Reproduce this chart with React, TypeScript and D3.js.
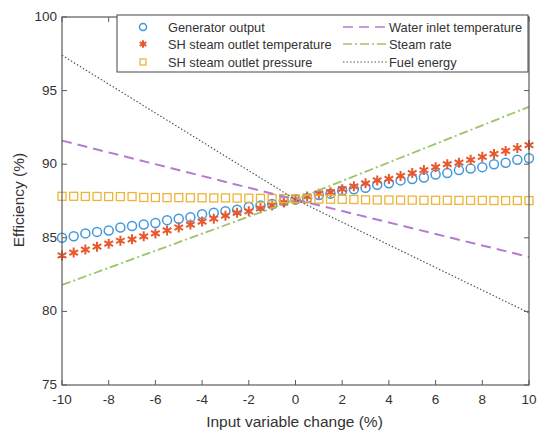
import React, { useEffect, useRef } from 'react';
import * as d3 from 'd3';

// input variable change (%)
const xSteps = [
  -10, -9.5, -9, -8.5, -8, -7.5, -7, -6.5, -6, -5.5, -5, -4.5, -4, -3.5, -3, -2.5, -2, -1.5, -1, -0.5,
  0, 0.5, 1, 1.5, 2, 2.5, 3, 3.5, 4, 4.5, 5, 5.5, 6, 6.5, 7, 7.5, 8, 8.5, 9, 9.5, 10,
];
const generatorOutput = [
  85.0, 85.1, 85.3, 85.4, 85.5, 85.7, 85.8, 85.9, 86.0, 86.2, 86.3, 86.4, 86.6, 86.7, 86.8, 86.9, 87.1, 87.2, 87.3, 87.5,
  87.6, 87.7, 87.9, 88.0, 88.2, 88.3, 88.4, 88.6, 88.7, 88.9, 89.0, 89.1, 89.3, 89.4, 89.6, 89.7, 89.8, 90.0, 90.1, 90.3, 90.4,
];
const shSteamTemp = [
  83.8, 84.0, 84.2, 84.4, 84.6, 84.8, 84.9, 85.1, 85.3, 85.5, 85.7, 85.9, 86.1, 86.3, 86.5, 86.7, 86.8, 87.0, 87.2, 87.4,
  87.6, 87.8, 88.0, 88.1, 88.3, 88.5, 88.7, 88.9, 89.0, 89.2, 89.4, 89.6, 89.8, 90.0, 90.1, 90.3, 90.5, 90.7, 90.9, 91.1, 91.3,
];
const shSteamPressure = [
  87.82, 87.82, 87.81, 87.81, 87.8, 87.8, 87.8, 87.74, 87.74, 87.73, 87.73, 87.72, 87.72, 87.71, 87.71, 87.7, 87.69, 87.68, 87.67, 87.66,
  87.65, 87.64, 87.63, 87.62, 87.61, 87.6, 87.58, 87.57, 87.57, 87.56, 87.56, 87.55, 87.55, 87.55, 87.54, 87.54, 87.54, 87.53, 87.53, 87.53, 87.53,
];
const lineX = [-10, 0, 10];
const waterInletTemp = [91.6, 87.6, 83.7];
const steamRate = [81.8, 87.6, 93.9];
const fuelEnergy = [97.4, 87.6, 79.9];

const xTicks = [-10, -8, -6, -4, -2, 0, 2, 4, 6, 8, 10];
const yTicks = [75, 80, 85, 90, 95, 100];

const W = 539;
const H = 430;
const margin = { top: 17, right: 10, bottom: 45, left: 62 };
const font = 'Liberation Sans, Arial, sans-serif';

const colors = {
  gen: '#4398dc',
  temp: '#e8582c',
  pres: '#edb43a',
  water: '#b57bcc',
  steam: '#9cc46a',
  fuel: '#555555',
};

const App = () => {
  const svgRef = useRef<SVGSVGElement>(null);

  useEffect(() => {
    const svg = d3.select(svgRef.current);
    svg.selectAll('*').remove();

    const width = W - margin.left - margin.right;
    const height = H - margin.top - margin.bottom;

    const x = d3.scaleLinear().domain([-10, 10]).range([0, width]);
    const y = d3.scaleLinear().domain([75, 100]).range([height, 0]);

    const g = svg.append('g').attr('transform', `translate(${margin.left},${margin.top})`);

    // markers
    g.selectAll('.gen')
      .data(generatorOutput)
      .enter().append('circle')
      .attr('cx', (d, i) => x(xSteps[i]))
      .attr('cy', d => y(d))
      .attr('r', 4.5)
      .attr('fill', 'none')
      .attr('stroke', colors.gen)
      .attr('stroke-width', 1.5);

    const star = d3.symbol().type(d3.symbolAsterisk).size(70);
    g.selectAll('.temp')
      .data(shSteamTemp)
      .enter().append('path')
      .attr('d', star)
      .attr('transform', (d, i) => `translate(${x(xSteps[i])},${y(d)})`)
      .attr('fill', 'none')
      .attr('stroke', colors.temp)
      .attr('stroke-width', 2);

    g.selectAll('.pres')
      .data(shSteamPressure)
      .enter().append('rect')
      .attr('x', (d, i) => x(xSteps[i]) - 4)
      .attr('y', d => y(d) - 4)
      .attr('width', 8)
      .attr('height', 8)
      .attr('fill', 'none')
      .attr('stroke', colors.pres)
      .attr('stroke-width', 1.3);

    const line = d3.line<number>()
      .x((d, i) => x(lineX[i]))
      .y(d => y(d));

    g.append('path').datum(waterInletTemp)
      .attr('d', line).attr('fill', 'none')
      .attr('stroke', colors.water).attr('stroke-width', 2)
      .attr('stroke-dasharray', '10,6');
    g.append('path').datum(steamRate)
      .attr('d', line).attr('fill', 'none')
      .attr('stroke', colors.steam).attr('stroke-width', 1.8)
      .attr('stroke-dasharray', '9,3,2,3');
    g.append('path').datum(fuelEnergy)
      .attr('d', line).attr('fill', 'none')
      .attr('stroke', colors.fuel).attr('stroke-width', 1.2)
      .attr('stroke-dasharray', '1.5,2');

    // box + ticks on all sides
    const axisColor = '#5a5a5a';
    g.append('rect')
      .attr('width', width).attr('height', height)
      .attr('fill', 'none').attr('stroke', axisColor).attr('stroke-width', 1.2);

    xTicks.forEach(t => {
      g.append('line').attr('x1', x(t)).attr('x2', x(t)).attr('y1', height).attr('y2', height - 5)
        .attr('stroke', axisColor);
      g.append('line').attr('x1', x(t)).attr('x2', x(t)).attr('y1', 0).attr('y2', 5)
        .attr('stroke', axisColor);
      g.append('text').attr('x', x(t)).attr('y', height + 19)
        .attr('text-anchor', 'middle').attr('font-family', font).attr('font-size', 13.5)
        .attr('fill', '#333').text(t);
    });
    yTicks.forEach(t => {
      g.append('line').attr('x1', 0).attr('x2', 5).attr('y1', y(t)).attr('y2', y(t))
        .attr('stroke', axisColor);
      g.append('line').attr('x1', width).attr('x2', width - 5).attr('y1', y(t)).attr('y2', y(t))
        .attr('stroke', axisColor);
      g.append('text').attr('x', -5).attr('y', y(t) + 4)
        .attr('text-anchor', 'end').attr('font-family', font).attr('font-size', 13.5)
        .attr('fill', '#333').text(t);
    });

    svg.append('text')
      .attr('x', margin.left + width / 2 - 1).attr('y', H - 3)
      .attr('text-anchor', 'middle').attr('font-family', font).attr('font-size', 15.5)
      .attr('fill', '#333').text('Input variable change (%)');
    svg.append('text')
      .attr('transform', `translate(24,${margin.top + height / 2 - 1}) rotate(-90)`)
      .attr('text-anchor', 'middle').attr('font-family', font).attr('font-size', 15.5)
      .attr('fill', '#333').text('Efficiency (%)');

    // legend
    const lg = svg.append('g');
    lg.append('rect')
      .attr('x', 117).attr('y', 15).attr('width', 411).attr('height', 57)
      .attr('fill', 'white').attr('stroke', '#444').attr('stroke-width', 1);

    const rows = [27, 44, 62];
    const fs = 12.8;
    const addText = (tx: number, ty: number, s: string) =>
      lg.append('text').attr('x', tx).attr('y', ty + 4.5)
        .attr('font-family', font).attr('font-size', fs).attr('fill', '#333').text(s);

    lg.append('circle').attr('cx', 143).attr('cy', rows[0]).attr('r', 3.5)
      .attr('fill', 'none').attr('stroke', colors.gen).attr('stroke-width', 1.5);
    addText(168, rows[0], 'Generator output');
    lg.append('path').attr('d', d3.symbol().type(d3.symbolAsterisk).size(40))
      .attr('transform', `translate(143,${rows[1]})`)
      .attr('fill', 'none').attr('stroke', colors.temp).attr('stroke-width', 2);
    addText(168, rows[1], 'SH steam outlet temperature');
    lg.append('rect').attr('x', 140).attr('y', rows[2] - 3).attr('width', 6).attr('height', 6)
      .attr('fill', 'none').attr('stroke', colors.pres).attr('stroke-width', 1.3);
    addText(168, rows[2], 'SH steam outlet pressure');

    const legLine = (ry: number, color: string, dash: string, sw: number) =>
      lg.append('line').attr('x1', 343).attr('x2', 387).attr('y1', ry).attr('y2', ry)
        .attr('stroke', color).attr('stroke-width', sw).attr('stroke-dasharray', dash);
    legLine(rows[0], colors.water, '10,6', 1.5);
    addText(389, rows[0], 'Water inlet temperature');
    legLine(rows[1], colors.steam, '9,3,2,3', 1.5);
    addText(389, rows[1], 'Steam rate');
    legLine(rows[2], colors.fuel, '1.5,2', 1);
    addText(389, rows[2], 'Fuel energy');
  }, []);

  return (
    <div style={{ position: 'absolute', left: 0, top: 0 }}>
      <svg ref={svgRef} width={W} height={H} style={{ display: 'block', background: 'white' }}></svg>
    </div>
  );
};

export default App;
